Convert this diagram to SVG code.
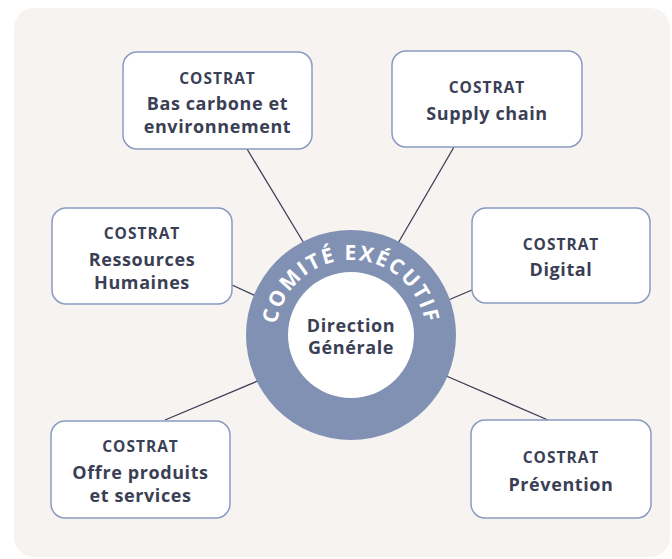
<svg xmlns="http://www.w3.org/2000/svg" width="672" height="559" viewBox="0 0 672 559">
<defs>
<style>
.box{fill:#ffffff;stroke:#8a9bc1;stroke-width:1.5}
.t{font-family:"Open Sans","Liberation Sans",sans-serif;font-weight:700;fill:#3b3f55;text-anchor:middle}
.s{font-size:15.5px;letter-spacing:1px}
.m{font-size:18px;letter-spacing:0.6px}
.c{font-family:"Open Sans","Liberation Sans",sans-serif;font-weight:700;fill:#ffffff;font-size:21px;letter-spacing:2px}
.ln{stroke:#3b3f55;stroke-width:1.3;fill:none}
</style>
<path id="arc" d="M 276 335 A 75 75 0 0 1 426 335"/>
</defs>
<rect x="14" y="8" width="656" height="549" rx="20" fill="#f7f3f0"/>
<g id="connectors">
<line class="ln" x1="247" y1="149" x2="305" y2="245"/>
<line class="ln" x1="454" y1="147" x2="397" y2="245"/>
<line class="ln" x1="232" y1="285" x2="258" y2="297"/>
<line class="ln" x1="472" y1="290" x2="446" y2="301"/>
<line class="ln" x1="165" y1="420" x2="260" y2="380"/>
<line class="ln" x1="548" y1="420" x2="444" y2="375"/>
</g>
<g id="center">
<circle cx="351" cy="335" r="105" fill="#8091b4"/>
<circle cx="351" cy="335" r="63" fill="#ffffff"/>
<text class="c"><textPath href="#arc" startOffset="50%" text-anchor="middle">COMITÉ EXÉCUTIF</textPath></text>
<text class="t m" x="351" y="332">Direction</text>
<text class="t m" x="351" y="354">Générale</text>
</g>
<g id="bas-carbone">
<rect class="box" x="123" y="52" width="189" height="97" rx="14"/>
<text class="t s" x="217.5" y="84">COSTRAT</text>
<text class="t m" x="217.5" y="110">Bas carbone et</text>
<text class="t m" x="217.5" y="133">environnement</text>
</g>
<g id="supply-chain">
<rect class="box" x="392" y="51" width="190" height="96" rx="14"/>
<text class="t s" x="487" y="93">COSTRAT</text>
<text class="t m" x="487" y="120">Supply chain</text>
</g>
<g id="ressources-humaines">
<rect class="box" x="52" y="208" width="180" height="96" rx="14"/>
<text class="t s" x="142" y="239">COSTRAT</text>
<text class="t m" x="142" y="266">Ressources</text>
<text class="t m" x="142" y="289">Humaines</text>
</g>
<g id="digital">
<rect class="box" x="472" y="208" width="178" height="95" rx="14"/>
<text class="t s" x="561" y="250">COSTRAT</text>
<text class="t m" x="561" y="276">Digital</text>
</g>
<g id="offre">
<rect class="box" x="51" y="421" width="179" height="97" rx="14"/>
<text class="t s" x="140.5" y="452">COSTRAT</text>
<text class="t m" x="140.5" y="479">Offre produits</text>
<text class="t m" x="140.5" y="502">et services</text>
</g>
<g id="prevention">
<rect class="box" x="471" y="420" width="180" height="98" rx="14"/>
<text class="t s" x="561" y="463">COSTRAT</text>
<text class="t m" x="561" y="491">Prévention</text>
</g>
</svg>
